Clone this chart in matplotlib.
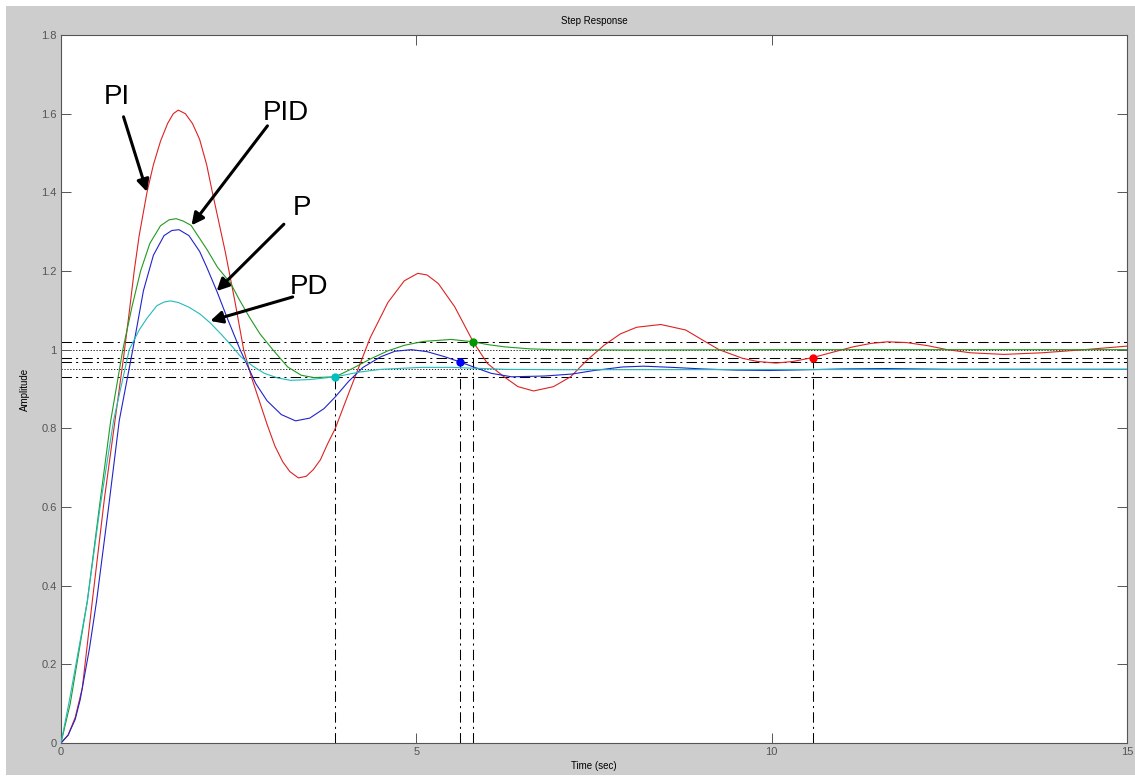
import numpy as np
import matplotlib.pyplot as plt
from matplotlib.patches import Rectangle

plt.rcParams['font.family'] = ['Liberation Sans', 'DejaVu Sans']

# step responses (time in sec, amplitude)
t_pi = [0, 0.1, 0.2, 0.3, 0.44, 0.61, 0.79, 0.88, 0.95, 1.03, 1.1, 1.21, 1.3, 1.4, 1.5, 1.58, 1.65,
        1.75, 1.85, 1.95, 2.05, 2.13, 2.31, 2.45, 2.57, 2.68, 2.79, 2.9, 3.01, 3.12, 3.22, 3.34,
        3.45, 3.55, 3.65, 3.75, 3.86, 4.05, 4.2, 4.35, 4.6, 4.83, 5.02, 5.15, 5.31, 5.54, 5.8,
        6.0, 6.22, 6.43, 6.65, 6.93, 7.17, 7.4, 7.64, 7.87, 8.1, 8.44, 8.79, 9.07, 9.26, 9.59,
        9.8, 10.06, 10.3, 10.58, 10.85, 11.14, 11.4, 11.63, 11.9, 12.2, 12.47, 12.8, 13.27,
        13.8, 14.4, 15]
y_pi = [0, 0.02, 0.065, 0.14, 0.36, 0.62, 0.86, 0.98, 1.08, 1.20, 1.29, 1.40, 1.47, 1.53, 1.575, 1.60, 1.609,
        1.60, 1.575, 1.535, 1.47, 1.40, 1.25, 1.12, 1.0, 0.93, 0.87, 0.81, 0.755, 0.715, 0.69, 0.674,
        0.678, 0.695, 0.72, 0.76, 0.80, 0.89, 0.96, 1.03, 1.12, 1.175, 1.194, 1.19, 1.168, 1.109, 1.02,
        0.965, 0.933, 0.906, 0.895, 0.906, 0.931, 0.973, 1.011, 1.04, 1.057, 1.064, 1.05, 1.02, 1.0, 0.978,
        0.97, 0.966, 0.97, 0.98, 0.993, 1.007, 1.016, 1.02, 1.018, 1.01, 1.0, 0.992, 0.988,
        0.992, 1.0, 1.009]

t_pid = [0, 0.13, 0.25, 0.37, 0.54, 0.70, 0.87, 1.0, 1.12, 1.25, 1.4, 1.52, 1.62, 1.72, 1.83,
         2.06, 2.2, 2.39, 2.5, 2.65, 2.8, 2.98, 3.19, 3.38, 3.56, 3.86, 4.1, 4.36, 4.6, 4.83,
         5.1, 5.49, 5.8, 6.0, 6.25, 6.6, 6.95, 8, 10, 15]
y_pid = [0, 0.10, 0.23, 0.36, 0.60, 0.82, 1.0, 1.11, 1.2, 1.27, 1.315, 1.33, 1.333, 1.327, 1.316,
         1.253, 1.21, 1.168, 1.13, 1.083, 1.04, 1.0, 0.956, 0.935, 0.929, 0.931, 0.952, 0.977, 0.997, 1.011,
         1.021, 1.026, 1.02, 1.013, 1.007, 1.002, 1.0, 0.999, 1.0, 1.0]

t_p = [0, 0.1, 0.2, 0.27, 0.4, 0.5, 0.67, 0.82, 1.01, 1.16, 1.3, 1.45, 1.56, 1.66, 1.8, 1.95,
       2.05, 2.19, 2.34, 2.52, 2.74, 2.9, 3.1, 3.3, 3.5, 3.7, 3.86, 4.05, 4.25, 4.5, 4.7, 4.93,
       5.15, 5.4, 5.61, 5.82, 6.05, 6.34, 6.8, 7.19, 7.5, 7.9, 8.2, 8.6, 9.03, 9.5, 9.97, 10.5,
       11.0, 11.6, 12.5, 15]
y_p = [0, 0.02, 0.06, 0.11, 0.24, 0.36, 0.60, 0.82, 1.0, 1.15, 1.24, 1.29, 1.303, 1.305, 1.29, 1.25,
       1.21, 1.15, 1.08, 1.0, 0.914, 0.87, 0.835, 0.819, 0.826, 0.85, 0.88, 0.92, 0.955, 0.982, 0.996, 1.0,
       0.995, 0.982, 0.969, 0.955, 0.94, 0.931, 0.933, 0.938, 0.947, 0.956, 0.958, 0.955, 0.951, 0.948, 0.947, 0.949,
       0.951, 0.952, 0.95, 0.95]

t_pd = [0, 0.12, 0.25, 0.37, 0.55, 0.74, 0.96, 1.1, 1.21, 1.35, 1.45, 1.54, 1.65, 1.8, 1.96,
        2.1, 2.25, 2.4, 2.53, 2.7, 2.86, 3.05, 3.23, 3.5, 3.86, 4.2, 4.5, 5.07, 5.5, 6.25, 7, 15]
y_pd = [0, 0.11, 0.24, 0.36, 0.60, 0.82, 1.0, 1.05, 1.08, 1.112, 1.121, 1.124, 1.12, 1.108, 1.09,
        1.068, 1.04, 1.01, 0.982, 0.958, 0.94, 0.928, 0.922, 0.924, 0.931, 0.943, 0.95, 0.955, 0.955, 0.95, 0.949, 0.95]

# settling points
settle_t = [3.86, 5.61, 5.80, 10.58]
settle_y = [0.931, 0.969, 1.02, 0.98]
settle_c = ['#00bfbf', '#0000ff', '#009900', '#ff0000']

# reference levels
band_lines = [1.02, 0.98, 0.969, 0.931]
final_lines = [1.0, 0.95]

fig = plt.figure(figsize=(11.35, 7.77), dpi=100, facecolor='white')
fig.patches.append(Rectangle((6 / 1135, 2 / 777), 1, 769 / 777, transform=fig.transFigure,
                             facecolor='#cdcdcd', edgecolor='none', zorder=-10))
ax = fig.add_axes([61 / 1135, 34 / 777, 1066 / 1135, 708 / 777])
ax.set_facecolor('white')

dd = (0, (10, 4, 2, 4))
for v in band_lines:
    ax.axhline(v, color='k', lw=0.75, ls=dd, zorder=1)
for v in final_lines:
    ax.axhline(v, color='k', lw=0.6, ls=(0, (1.5, 2)), zorder=1)
for t, y in zip(settle_t, settle_y):
    ax.plot([t, t], [0, y], color='k', lw=0.75, ls=dd, zorder=1)

ax.plot(t_pi, y_pi, color='#dd2222', lw=0.8, zorder=3)
ax.plot(t_pid, y_pid, color='#229922', lw=0.8, zorder=3)
ax.plot(t_p, y_p, color='#2222cc', lw=0.8, zorder=3)
ax.plot(t_pd, y_pd, color='#22bbbb', lw=0.8, zorder=3)
for t, y, c in zip(settle_t, settle_y, settle_c):
    ax.plot(t, y, 'o', color=c, ms=5, zorder=4)

# labels and arrows
labels = [('PI', 0.78, 1.642, 0.88, 1.592, 1.21, 1.401),
          ('PID', 3.16, 1.601, 2.905, 1.569, 1.836, 1.316),
          ('P', 3.39, 1.36, 3.136, 1.319, 2.19, 1.149),
          ('PD', 3.49, 1.16, 3.26, 1.134, 2.10, 1.073)]
for txt, xt, yt, x0, y0, x1, y1 in labels:
    ax.text(xt, yt, txt, fontsize=20, ha='center', va='center', zorder=5)
    ax.annotate('', xy=(x1, y1), xytext=(x0, y0),
                arrowprops=dict(arrowstyle='-|>', color='k', lw=2.2, mutation_scale=18,
                                shrinkA=0, shrinkB=0), zorder=5)

ax.set_xlim(0, 15)
ax.set_ylim(0, 1.8)
ax.set_xticks([0, 5, 10, 15])
ax.set_yticks(np.arange(0, 1.81, 0.2))
ax.set_yticklabels(['0', '0.2', '0.4', '0.6', '0.8', '1', '1.2', '1.4', '1.6', '1.8'])
ax.tick_params(direction='in', length=7, width=0.7, color='#555555', labelcolor='#555555',
               labelsize=8, top=True, right=True, pad=3)
for s in ax.spines.values():
    s.set_color('#555555')
    s.set_linewidth(0.8)

ax.set_title('Step Response', fontsize=7, pad=8)
ax.set_xlabel('Time (sec)', fontsize=7, labelpad=3)
ax.set_ylabel('Amplitude', fontsize=7, labelpad=8)

fig.savefig('out.png', dpi=100, facecolor=fig.get_facecolor())
